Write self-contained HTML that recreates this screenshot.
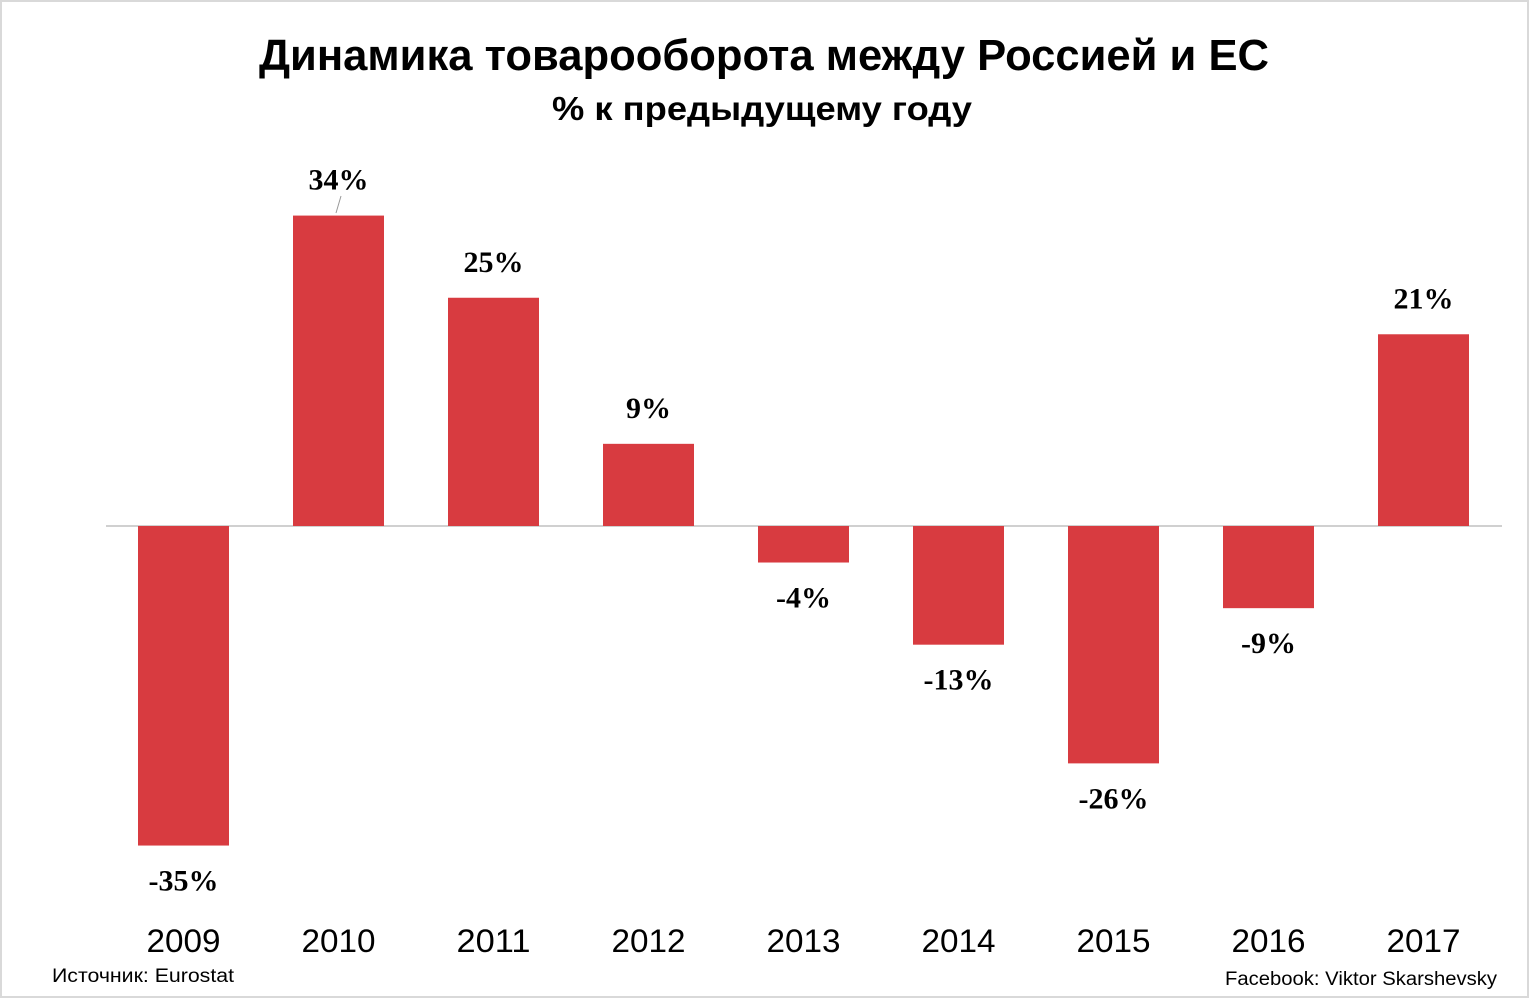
<!DOCTYPE html>
<html><head><meta charset="utf-8"><style>
html,body{margin:0;padding:0;background:#fff}
svg{display:block}
</style></head><body>
<svg id="chart" width="1529" height="998" xmlns="http://www.w3.org/2000/svg">
<rect x="1" y="1" width="1527" height="996" fill="#fff" stroke="#d9d9d9" stroke-width="2"/>
<text x="764" y="70" text-anchor="middle" font-family="Liberation Sans, sans-serif" font-weight="bold" font-size="44" textLength="1010" lengthAdjust="spacingAndGlyphs">Динамика товарооборота между Россией и ЕС</text>
<text x="762" y="120" text-anchor="middle" font-family="Liberation Sans, sans-serif" font-weight="bold" font-size="33" textLength="420" lengthAdjust="spacingAndGlyphs">% к предыдущему году</text>
<line x1="106" x2="1502" y1="526" y2="526" stroke="#d0d0d0" stroke-width="2"/>
<g id="bars"></g>
<line x1="336" y1="213" x2="341" y2="196" stroke="#999" stroke-width="1"/>
<text x="52" y="982" font-family="Liberation Sans, sans-serif" font-size="19" textLength="182" lengthAdjust="spacingAndGlyphs">Источник: Eurostat</text>
<text x="1497" y="985" text-anchor="end" font-family="Liberation Sans, sans-serif" font-size="19" textLength="272" lengthAdjust="spacingAndGlyphs">Facebook: Viktor Skarshevsky</text>
</svg>
<script>
const categories = ["2009","2010","2011","2012","2013","2014","2015","2016","2017"];
const values = [-35,34,25,9,-4,-13,-26,-9,21];
const valueLabels = ["-35%","34%","25%","9%","-4%","-13%","-26%","-9%","21%"];
const NS="http://www.w3.org/2000/svg";
const zeroY=526, pxPer=9.13, firstCenter=183.5, step=155, barW=91;
const xScale=i=>firstCenter+i*step;
const yScale=v=>zeroY-v*pxPer;
const g=document.getElementById('bars');
function mk(tag,attrs){const e=document.createElementNS(NS,tag);for(const k in attrs)e.setAttribute(k,attrs[k]);return e;}
categories.forEach((c,i)=>{
  const v=values[i], cx=xScale(i), y0=Math.min(yScale(v),zeroY), h=Math.abs(yScale(v)-zeroY);
  const r=mk('rect',{x:cx-barW/2,y:y0,width:barW,height:h,fill:'#d83b40'});
  
  
  g.appendChild(r);
  const ly = v>=0 ? yScale(v)-26 : yScale(v)+45;
  const t=mk('text',{x:cx,y:ly,'text-anchor':'middle','font-family':'Liberation Serif, serif','font-weight':'bold','font-size':'30'});
  t.textContent=valueLabels[i];
  
  
  g.appendChild(t);
  const a=mk('text',{x:cx,y:952,'text-anchor':'middle','font-family':'Liberation Sans, sans-serif','font-size':'32',textLength:'74',lengthAdjust:'spacingAndGlyphs'});
  a.textContent=c;
  
  
  g.appendChild(a);
});
</script>
</body></html>
